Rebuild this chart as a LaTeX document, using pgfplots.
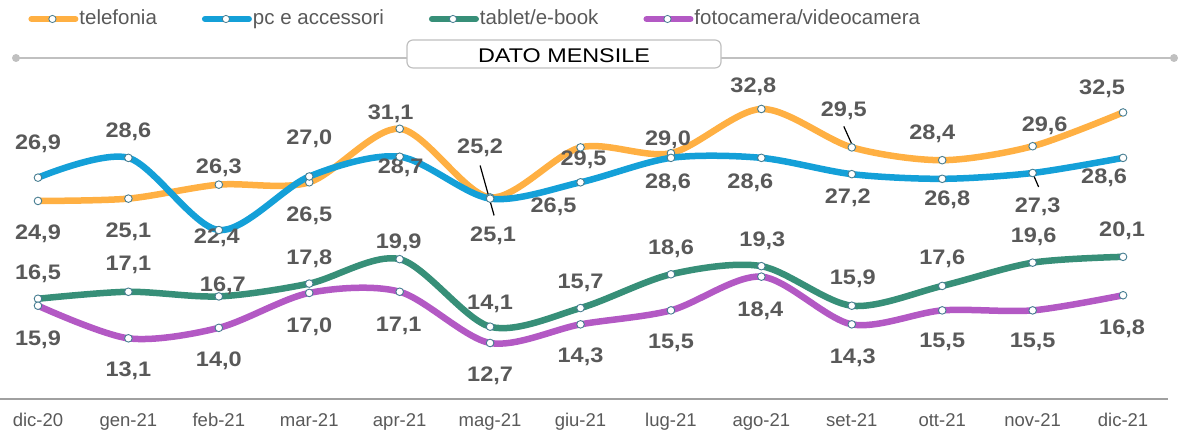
\documentclass[border=0pt]{standalone}
\usepackage{fontspec}
\setmainfont{Liberation Sans}
\newfontfamily\lblfont{Liberation Sans}[FakeStretch=1.12]
\newfontfamily\ttlfont{Liberation Sans}[FakeStretch=1.18]
\usepackage{pgfplots}
\pgfplotsset{compat=1.18}
\definecolor{cTel}{RGB}{255,176,67}
\definecolor{cPc}{RGB}{20,160,216}
\definecolor{cTab}{RGB}{55,143,120}
\definecolor{cFoto}{RGB}{179,89,196}
\definecolor{markedge}{RGB}{70,125,145}
\definecolor{labelgray}{RGB}{89,89,89}
\definecolor{axisgray}{RGB}{160,160,160}
\definecolor{ttlgray}{RGB}{192,192,192}
\tikzset{lbl/.style={font=\lblfont\bfseries\fontsize{10.5pt}{12pt}\selectfont, text=labelgray, anchor=center, inner sep=0pt, text height=7.5pt, text depth=0pt}}
\newcommand{\lb}[5]{\node[lbl, xshift=#3*0.5pt, yshift=#4*0.5pt] at (axis cs:#1,#2) {#5};}
\begin{document}
\begin{tikzpicture}
\begin{axis}[
  at={(0pt,16pt)}, anchor=south west,
  scale only axis, width=584pt, height=199.5pt,
  xmin=-0.42, xmax=12.497, ymin=7.89, ymax=42.16,
  clip=false,
  axis y line=none, axis x line*=bottom,
  x axis line style={-, draw=axisgray, line width=1pt},
  ytick=\empty,
  xtick={0,...,12},
  xticklabels={dic-20,gen-21,feb-21,mar-21,apr-21,mag-21,giu-21,lug-21,ago-21,set-21,ott-21,nov-21,dic-21},
  major tick length=0pt,
  xticklabel style={anchor=base, yshift=-14pt, font=\fontsize{9.25pt}{11pt}\selectfont, text=labelgray},
  every axis plot/.append style={smooth, line width=3.25pt, mark=*, mark size=1.9pt,
     mark options={fill=white, draw=markedge, line width=0.45pt}},
  legend columns=-1,
  legend style={draw=none, fill=none, at={(0.024,0.9524)}, anchor=west, inner sep=0pt,
     font=\fontsize{10.25pt}{12pt}\selectfont, text=labelgray,
     /tikz/every even column/.append style={column sep=22pt},
     nodes={inner sep=0.5pt}},
  legend image code/.code={
     \draw[#1, mark=none, line width=3pt, line cap=round] (1.5pt,0pt) -- (23.5pt,0pt);
     \draw[markedge, fill=white, line width=0.4pt] (12pt,0pt) circle (1.8pt);
  },
]
\addplot[color=cTel] coordinates {(0,24.9)(1,25.1)(2,26.3)(3,26.5)(4,31.1)(5,25.2)(6,29.5)(7,29.0)(8,32.8)(9,29.5)(10,28.4)(11,29.6)(12,32.5)};
\addlegendentry{telefonia}
\addplot[color=cPc] coordinates {(0,26.9)(1,28.6)(2,22.4)(3,27.0)(4,28.7)(5,25.1)(6,26.5)(7,28.6)(8,28.6)(9,27.2)(10,26.8)(11,27.3)(12,28.6)};
\addlegendentry{pc e accessori}
\addplot[color=cTab] coordinates {(0,16.5)(1,17.1)(2,16.7)(3,17.8)(4,19.9)(5,14.1)(6,15.7)(7,18.6)(8,19.3)(9,15.9)(10,17.6)(11,19.6)(12,20.1)};
\addlegendentry{tablet/e-book}
\addplot[color=cFoto] coordinates {(0,15.9)(1,13.1)(2,14.0)(3,17.0)(4,17.1)(5,12.7)(6,14.3)(7,15.5)(8,18.4)(9,14.3)(10,15.5)(11,15.5)(12,16.8)};
\addlegendentry{fotocamera/videocamera}
% leader lines
\draw[black, line width=0.6pt] ([xshift=-5pt, yshift=16pt]axis cs:5,25.2) -- ([xshift=2pt, yshift=-9pt]axis cs:5,25.2);
\draw[black, line width=0.6pt] ([xshift=-4pt, yshift=10.5pt]axis cs:9,29.5) -- ([xshift=0.5pt, yshift=0.5pt]axis cs:9,29.5);
\draw[black, line width=0.6pt] ([xshift=0pt, yshift=0pt]axis cs:11,27.3) -- ([xshift=3pt, yshift=-7pt]axis cs:11,27.3);
% telefonia labels
\lb{0}{24.9}{0}{-31}{24,9}
\lb{1}{25.1}{0}{-31}{25,1}
\lb{2}{26.3}{0}{19}{26,3}
\lb{3}{26.5}{0}{-32}{26,5}
\lb{4}{31.1}{-9}{17}{31,1}
\lb{5}{25.2}{-10}{51}{25,2}
\lb{6}{29.5}{3}{-11}{29,5}
\lb{7}{29.0}{-3}{15}{29,0}
\lb{8}{32.8}{-8}{24}{32,8}
\lb{9}{29.5}{-8}{38}{29,5}
\lb{10}{28.4}{-10}{28}{28,4}
\lb{11}{29.6}{12}{22}{29,6}
\lb{12}{32.5}{-21}{25}{32,5}
% pc labels
\lb{0}{26.9}{0}{36}{26,9}
\lb{1}{28.6}{0}{28}{28,6}
\lb{2}{22.4}{-2}{-6}{22,4}
\lb{3}{27.0}{0}{39}{27,0}
\lb{4}{28.7}{1}{-9}{28,7}
\lb{5}{25.1}{3}{-35}{25,1}
\lb{6}{26.5}{-27}{-23}{26,5}
\lb{7}{28.6}{-3}{-23}{28,6}
\lb{8}{28.6}{-11}{-23}{28,6}
\lb{9}{27.2}{-4}{-22}{27,2}
\lb{10}{26.8}{5}{-19}{26,8}
\lb{11}{27.3}{5}{-32}{27,3}
\lb{12}{28.6}{-19}{-18}{28,6}
% tablet labels
\lb{0}{16.5}{0}{27}{16,5}
\lb{1}{17.1}{0}{29}{17,1}
\lb{2}{16.7}{4}{12}{16,7}
\lb{3}{17.8}{0}{27}{17,8}
\lb{4}{19.9}{-1}{18}{19,9}
\lb{5}{14.1}{0}{25}{14,1}
\lb{6}{15.7}{0}{27}{15,7}
\lb{7}{18.6}{0}{27}{18,6}
\lb{8}{19.3}{1}{27}{19,3}
\lb{9}{15.9}{1}{29}{15,9}
\lb{10}{17.6}{0}{29}{17,6}
\lb{11}{19.6}{1}{28}{19,6}
\lb{12}{20.1}{-1}{28}{20,1}
% foto labels
\lb{0}{15.9}{0}{-32}{15,9}
\lb{1}{13.1}{0}{-31}{13,1}
\lb{2}{14.0}{0}{-31}{14,0}
\lb{3}{17.0}{0}{-32}{17,0}
\lb{4}{17.1}{-1}{-32}{17,1}
\lb{5}{12.7}{0}{-31}{12,7}
\lb{6}{14.3}{0}{-31}{14,3}
\lb{7}{15.5}{0}{-31}{15,5}
\lb{8}{18.4}{-1}{-32}{18,4}
\lb{9}{14.3}{1}{-32}{14,3}
\lb{10}{15.5}{0}{-30}{15,5}
\lb{11}{15.5}{0}{-30}{15,5}
\lb{12}{16.8}{-1}{-32}{16,8}
\end{axis}
% title band
\draw[ttlgray, line width=1pt] (8pt,186.5pt) -- (587pt,186.5pt);
\fill[ttlgray] (8pt,186.5pt) circle (2pt);
\fill[ttlgray] (587pt,186.5pt) circle (2pt);
\draw[ttlgray, line width=0.6pt, fill=white, rounded corners=3pt] (203.5pt,181.5pt) rectangle (360.5pt,195.5pt);
\node[font=\ttlfont\fontsize{9.9pt}{11pt}\selectfont, text=black, inner sep=0pt] at (282pt,187.5pt) {DATO MENSILE};
\pgfresetboundingbox
\path (0pt,0pt) rectangle (589.5pt,215.5pt);
\end{tikzpicture}
\end{document}
